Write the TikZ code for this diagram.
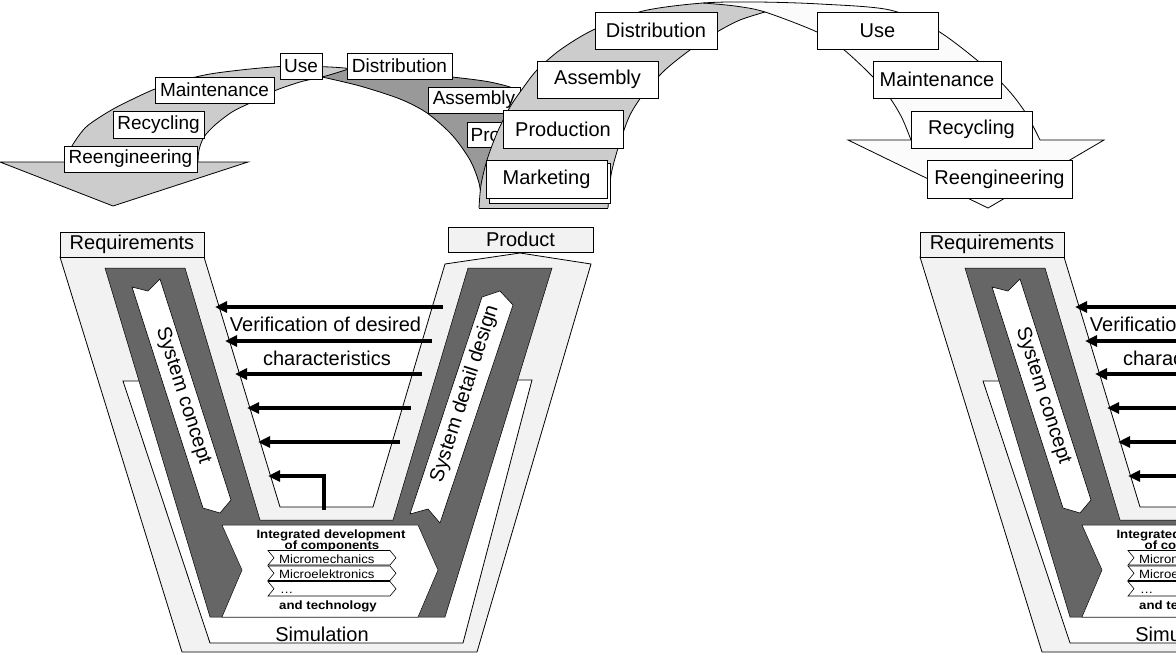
\documentclass[tikz,border=0pt]{standalone}
\usepackage{fontspec}
\setmainfont{Liberation Sans}
\newfontfamily\innerfont[FakeStretch=1.1]{Liberation Sans}
\usetikzlibrary{arrows.meta}

\newcommand\szbig{\fontsize{20}{22}\selectfont}
\newcommand\szsmall{\fontsize{19}{21}\selectfont}
\newcommand\szinner{\innerfont\fontsize{12}{12}\selectfont}

\definecolor{bandlight}{gray}{0.80}
\definecolor{banddark}{gray}{0.60}
\definecolor{vpale}{gray}{0.95}
\definecolor{vdark}{gray}{0.40}
\definecolor{arcpale}{gray}{0.985}

\tikzset{
  outline/.style={draw=black, line width=0.8pt},
  lifebox/.style={draw=black, line width=0.8pt, fill=white, inner sep=0pt, font=\szbig},
  smallbox/.style={draw=black, line width=0.8pt, fill=white, inner sep=0pt, font=\szsmall},
  phasebox/.style={draw=black, line width=0.8pt, fill=vpale, inner sep=0pt, font=\szbig, minimum height=25pt},
  verif/.style={line width=4pt, -{Triangle[length=12pt,width=11pt]}},
  flowarrow/.style={draw=black, line width=0.6pt, fill=white},
  chev/.style={draw=black, line width=0.6pt, fill=white},
  txt/.style={inner sep=0pt, font=\szbig},
  smalltxt/.style={inner sep=0pt, font=\szinner},
}

% One V-model panel; #1 = name prefix, #2 = horizontal offset in pt
\newcommand\vmodel[2]{%
\begin{scope}[xshift=#2pt]
  % pale outer frame
  \path[outline, fill=vpale] (60,257) -- (204,257) -- (280,507) -- (373,507) -- (445,264)
        -- (520,253) -- (591,264) -- (477,652) -- (182,652) -- cycle;
  % white simulation strip
  \fill[white] (139,381) -- (123,381) -- (210,643) -- (463,643) -- (532,380) -- (517,380)
        -- (445,617) -- (210,617) -- cycle;
  \draw[outline] (139,381) -- (123,381) -- (210,643) -- (463,643) -- (532,380) -- (517,380);
  % dark V band
  \path[fill=vdark, draw=black, line width=0.5pt] (105,268) -- (185,268) -- (260,520) -- (393,520)
        -- (468,268) -- (552,268) -- (445,617) -- (210,617) -- cycle;
  % descending and ascending branch arrows
  \path[flowarrow] (132,287) -- (148,291) -- (160,279) -- (231,500) -- (220,513) -- (203,508) -- cycle;
  \node[txt, rotate=-72.3] (#1concept) at (183,396) {System concept};
  \path[flowarrow] (410,514) -- (428,509) -- (440,523) -- (513,305) -- (500,291) -- (482,297) -- cycle;
  \node[txt, rotate=72.3] (#1detail) at (465,394) {System detail design};
  % integrated development block
  \path[draw=black, line width=0.5pt, fill=white] (222,525) -- (418,525) -- (438,570) -- (418,617)
        -- (222,617) -- (242,570) -- cycle;
  \node[smalltxt, font=\szinner\bfseries, anchor=base] (#1intA) at (331,538) {Integrated development};
  \node[smalltxt, font=\szinner\bfseries, anchor=base] (#1intB) at (332,549.5) {of components};
  \path[chev] (268,550.5) -- (390,550.5) -- (396,557.8) -- (390,565) -- (268,565) -- (274,557.8) -- cycle;
  \path[chev] (268,566) -- (390,566) -- (396,573.2) -- (390,580.5) -- (268,580.5) -- (274,573.2) -- cycle;
  \path[chev] (268,581.5) -- (390,581.5) -- (396,588.8) -- (390,596) -- (268,596) -- (274,588.8) -- cycle;
  \node[smalltxt, anchor=base west] (#1micA) at (279,563) {Micromechanics};
  \node[smalltxt, anchor=base west] (#1micB) at (279,578.5) {Microelektronics};
  \node[smalltxt, anchor=base west] (#1micC) at (280,593.5) {…};
  \node[smalltxt, font=\szinner\bfseries, anchor=base] (#1intC) at (328,609.5) {and technology};
  \node[txt, anchor=base] (#1sim) at (322,641) {Simulation};
  % phase boxes
  \node[phasebox, minimum width=144pt] (#1req) at (132,244.5) {Requirements};
  \node[phasebox, minimum width=145pt] (#1prod) at (520.5,239.5) {Product};
  % verification arrows
  \node[txt, anchor=base] (#1verA) at (325.5,331) {Verification of desired};
  \node[txt, anchor=base] (#1verB) at (327,365) {characteristics};
  \coordinate (#1a1) at (443,307); \coordinate (#1b1) at (215,307);
  \coordinate (#1a2) at (432,341); \coordinate (#1b2) at (225,341);
  \coordinate (#1a3) at (422,374); \coordinate (#1b3) at (235,374);
  \coordinate (#1a4) at (411,408); \coordinate (#1b4) at (247,408);
  \coordinate (#1a5) at (400,442); \coordinate (#1b5) at (258,442);
  \coordinate (#1a6) at (324,510); \coordinate (#1b6) at (268,476);
  \draw[verif] (#1a1) -- (#1b1);
  \draw[verif] (#1a2) -- (#1b2);
  \draw[verif] (#1a3) -- (#1b3);
  \draw[verif] (#1a4) -- (#1b4);
  \draw[verif] (#1a5) -- (#1b5);
  \draw[verif] (#1a6) |- (#1b6);
\end{scope}}

\begin{document}
\begin{tikzpicture}[x=1pt, y=-1pt]
\useasboundingbox (0,0) rectangle (1176,657);
\fill[white] (0,0) rectangle (1176,657);
\clip (0,0) rectangle (1176,657);

% ---------- small life-cycle arc (left, behind) ----------
\fill[bandlight] plot[smooth] coordinates {(66,162) (72,146) (85,128) (100,117) (115,108) (135,98) (155,89) (180,81) (210,74) (250,69) (290,66) (330,67) (350,68.5) (370,70) (420,74) (452,77) (490,82) (518,90) (540,105) (556,130) (564,165) (566,205)}
  -- (482,205)
  -- plot[smooth] coordinates {(482,205) (479,183) (470,160) (452,135) (427,113) (400,99) (360,86) (322,77)}
  -- plot[smooth] coordinates {(322,77) (300,82) (274,91) (250,103) (232,112) (215,125) (204,137) (199,150) (198,162)}
  -- (248,162) -- (113,206) -- (0,162) -- cycle;
\fill[banddark] plot[smooth] coordinates {(350,68.5) (370,70) (420,74) (452,77) (490,82) (518,90) (540,105) (556,130) (564,165) (566,205)}
  -- (482,205)
  -- plot[smooth] coordinates {(482,205) (479,183) (470,160) (452,135) (427,113) (400,99) (360,86) (322,77)}
  -- plot[smooth] coordinates {(322,77) (336,73) (350,68.5)} -- cycle;
\draw[outline] plot[smooth] coordinates {(66,162) (72,146) (85,128) (100,117) (115,108) (135,98) (155,89) (180,81) (210,74) (250,69) (290,66) (330,67) (350,68.5) (370,70) (420,74) (452,77) (490,82) (518,90) (540,105) (556,130) (564,165) (566,205)};
\draw[outline] plot[smooth] coordinates {(198,162) (199,150) (204,137) (215,125) (232,112) (250,103) (274,91) (300,82) (322,77) (336,73) (350,68.5)};
\draw[outline] plot[smooth] coordinates {(322,77) (360,86) (400,99) (427,113) (452,135) (470,160) (479,183) (482,205)};
\draw[outline] (66,162) -- (0,162) -- (113,206) -- (248,162) -- (198,162);

\node[smallbox, minimum width=133pt, minimum height=26pt] (sReeng) at (130.5,159) {Reengineering};
\node[smallbox, minimum width=91pt, minimum height=27pt] (sRecyc) at (158.5,124.5) {Recycling};
\node[smallbox, minimum width=119pt, minimum height=26pt] (sMaint) at (214.5,90) {Maintenance};
\node[smallbox, minimum width=42pt, minimum height=26pt] (sUse) at (301,66) {Use};
\node[smallbox, minimum width=105pt, minimum height=26pt] (sDistr) at (399.5,66) {Distribution};
\node[smallbox, minimum width=92pt, minimum height=26pt] (sAssem) at (474,100) {Assembly};
\node[smallbox, minimum width=98pt, minimum height=25pt] (sProd) at (516,134.5) {Production};

% ---------- large life-cycle arc (front) ----------
\fill[arcpale] plot[smooth] coordinates {(479,208) (481,185) (487,160) (497,133) (510,107) (523,88) (537,70) (560,50) (593,30) (643,11) (703,3) (757,2) (820,4) (890,10) (938,31) (984,66) (1010,92) (1027,115) (1040,140)}
  -- (1104,140) -- (988,208) -- (848,140) -- (911,140)
  -- plot[smooth] coordinates {(911,140) (902,118) (890,98) (873,77) (843,49) (817,32) (765,12)}
  -- plot[smooth] coordinates {(765,12) (740,20) (717,32) (690,50) (665,70) (645,92) (630,115) (619,145) (611,175) (608,208)}
  -- cycle;
\fill[bandlight] plot[smooth] coordinates {(479,208) (481,185) (487,160) (497,133) (510,107) (523,88) (537,70) (560,50) (593,30) (643,11) (703,3)}
  -- plot[smooth] coordinates {(703,3) (735,6) (765,12)}
  -- plot[smooth] coordinates {(765,12) (740,20) (717,32) (690,50) (665,70) (645,92) (630,115) (619,145) (611,175) (608,208)}
  -- cycle;
\draw[outline] plot[smooth] coordinates {(479,208) (481,185) (487,160) (497,133) (510,107) (523,88) (537,70) (560,50) (593,30) (643,11) (703,3) (757,2) (820,4) (890,10) (938,31) (984,66) (1010,92) (1027,115) (1040,140)};
\draw[outline] plot[smooth] coordinates {(703,3) (735,6) (765,12) (817,32) (843,49) (873,77) (890,98) (902,118) (911,140)};
\draw[outline] plot[smooth] coordinates {(765,12) (740,20) (717,32) (690,50) (665,70) (645,92) (630,115) (619,145) (611,175) (608,208)};
\draw[outline] (1040,140) -- (1104,140) -- (988,208) -- (848,140) -- (911,140);
\draw[outline] (479,208) -- (608,208);

\node[lifebox, minimum width=121pt, minimum height=40pt] (bMarketBack) at (549.5,183) {};
\node[lifebox, minimum width=121pt, minimum height=38pt] (bMarket) at (546.5,179) {Marketing};
\node[lifebox, minimum width=120pt, minimum height=38pt] (bProd) at (563,129) {Production};
\node[lifebox, minimum width=121pt, minimum height=37pt] (bAssem) at (597.5,79.5) {Assembly};
\node[lifebox, minimum width=122pt, minimum height=37pt] (bDistr) at (656,30.5) {Distribution};
\node[lifebox, minimum width=121pt, minimum height=37pt] (bUse) at (877.5,30.5) {Use};
\node[lifebox, minimum width=128pt, minimum height=37pt] (bMaint) at (937,79.5) {Maintenance};
\node[lifebox, minimum width=121pt, minimum height=37pt] (bRecyc) at (971.5,129.5) {Recycling};
\node[lifebox, minimum width=145pt, minimum height=38pt] (bReeng) at (999.5,179) {Reengineering};

% ---------- V-model panels ----------
\vmodel{L}{0}
\vmodel{R}{860}
\end{tikzpicture}
\end{document}
